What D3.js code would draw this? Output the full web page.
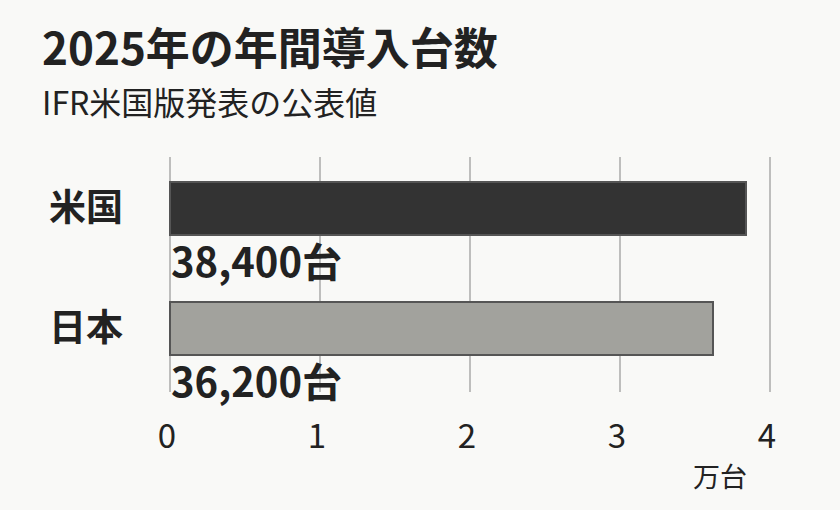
<!DOCTYPE html>
<html lang="ja">
	<head>
		<meta charset="utf-8">
		<title>2025年の年間導入台数</title>
		<style>
			html, body {
				margin: 0;
				padding: 0;
				background: #f9f9f7;
			}
			svg text {
				font-family: "Noto Sans CJK JP", "Noto Sans", sans-serif;
				fill: #222;
			}
		</style>
	</head>
	<body>
		<svg id="graph" width="840" height="510"></svg>

		<script src="https://d3js.org/d3.v7.min.js"></script>
		<script>
			"use strict";

			var countries = ["米国", "日本"];
			var units = [38400, 36200];
			var tickValues = [0, 1, 2, 3, 4];
			var barColors = ["#333333", "#a2a29d"];

			var svg = d3.select("#graph");

			// title
			svg.append("text")
				.attr("x", 42)
				.attr("y", 65)
				.attr("font-size", 44)
				.attr("font-weight", "bold")
				.text("2025年の年間導入台数");
			svg.append("text")
				.attr("x", 42)
				.attr("y", 115)
				.attr("font-size", 32)
				.attr("fill", "#333")
				.text("IFR米国版発表の公表値");

			var x = d3.scaleLinear().domain([0, 4]).range([170, 770]);
			var y = d3.scaleBand().domain(countries).range([170, 410]).paddingInner(0);

			// grid
			svg.append("g")
				.selectAll("line")
				.data(tickValues)
				.enter()
				.append("line")
				.attr("x1", function(d){ return x(d); })
				.attr("x2", function(d){ return x(d); })
				.attr("y1", 157)
				.attr("y2", 392)
				.attr("stroke", "#aaa")
				.attr("stroke-width", 1.5);

			// tick labels
			svg.append("g")
				.selectAll("text")
				.data(tickValues)
				.enter()
				.append("text")
				.attr("x", function(d){ return x(d) - 3; })
				.attr("y", 448)
				.attr("text-anchor", "middle")
				.attr("font-size", 33)
				.attr("fill", "#333")
				.text(function(d){ return d; });

			svg.append("text")
				.attr("x", 720)
				.attr("y", 487)
				.attr("text-anchor", "middle")
				.attr("font-size", 27)
				.attr("fill", "#333")
				.text("万台");

			// bars
			svg.append("g")
				.selectAll("rect")
				.data(units)
				.enter()
				.append("rect")
				.attr("x", x(0))
				.attr("y", function(d,i){ return y(countries[i]) + 12; })
				.attr("width", function(d){ return x(d / 10000) - x(0); })
				.attr("height", 53)
				.attr("fill", function(d,i){ return barColors[i]; })
				.attr("stroke", "#555")
				.attr("stroke-width", 2);

			// value labels
			svg.append("g")
				.selectAll("text")
				.data(units)
				.enter()
				.append("text")
				.attr("x", x(0) + 1)
				.attr("y", function(d,i){ return y(countries[i]) + 107; })
				.attr("font-size", 40)
				.attr("font-weight", "bold")
				.text(function(d){ return d3.format(",")(d) + "台"; });

			// category labels
			svg.append("g")
				.selectAll("text")
				.data(countries)
				.enter()
				.append("text")
				.attr("x", 86)
				.attr("y", function(d){ return y(d) + 51; })
				.attr("text-anchor", "middle")
				.attr("font-size", 37)
				.attr("font-weight", "bold")
				.text(function(d){ return d; });
		</script>
	</body>
</html>
